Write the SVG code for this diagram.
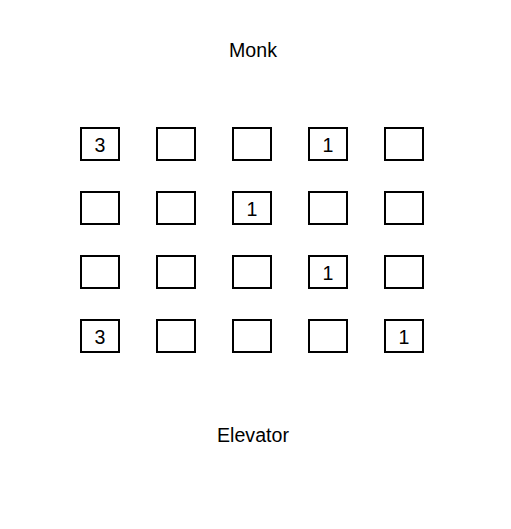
<svg xmlns="http://www.w3.org/2000/svg" width="511" height="529" viewBox="0 0 511 529">
<style>
rect.c{fill:#fff;stroke:#000;stroke-width:2}
text{font-family:"Liberation Sans",Arial,sans-serif;font-size:19.6px;fill:#000;text-anchor:middle}
</style>
<rect width="511" height="529" fill="#fff"/>
<g id="monk"><text x="253" y="56.5">Monk</text></g>
<g id="elevator"><text x="253" y="442">Elevator</text></g>
<g id="connectors"></g>
<g id="r1c1"><rect class="c" x="81" y="128" width="38" height="32"/><text x="100" y="152">3</text></g>
<g id="r1c2"><rect class="c" x="157" y="128" width="38" height="32"/></g>
<g id="r1c3"><rect class="c" x="233" y="128" width="38" height="32"/></g>
<g id="r1c4"><rect class="c" x="309" y="128" width="38" height="32"/><text x="328" y="152">1</text></g>
<g id="r1c5"><rect class="c" x="385" y="128" width="38" height="32"/></g>
<g id="r2c1"><rect class="c" x="81" y="192" width="38" height="32"/></g>
<g id="r2c2"><rect class="c" x="157" y="192" width="38" height="32"/></g>
<g id="r2c3"><rect class="c" x="233" y="192" width="38" height="32"/><text x="252" y="216">1</text></g>
<g id="r2c4"><rect class="c" x="309" y="192" width="38" height="32"/></g>
<g id="r2c5"><rect class="c" x="385" y="192" width="38" height="32"/></g>
<g id="r3c1"><rect class="c" x="81" y="256" width="38" height="32"/></g>
<g id="r3c2"><rect class="c" x="157" y="256" width="38" height="32"/></g>
<g id="r3c3"><rect class="c" x="233" y="256" width="38" height="32"/></g>
<g id="r3c4"><rect class="c" x="309" y="256" width="38" height="32"/><text x="328" y="280">1</text></g>
<g id="r3c5"><rect class="c" x="385" y="256" width="38" height="32"/></g>
<g id="r4c1"><rect class="c" x="81" y="320" width="38" height="32"/><text x="100" y="344">3</text></g>
<g id="r4c2"><rect class="c" x="157" y="320" width="38" height="32"/></g>
<g id="r4c3"><rect class="c" x="233" y="320" width="38" height="32"/></g>
<g id="r4c4"><rect class="c" x="309" y="320" width="38" height="32"/></g>
<g id="r4c5"><rect class="c" x="385" y="320" width="38" height="32"/><text x="404" y="344">1</text></g>
</svg>
